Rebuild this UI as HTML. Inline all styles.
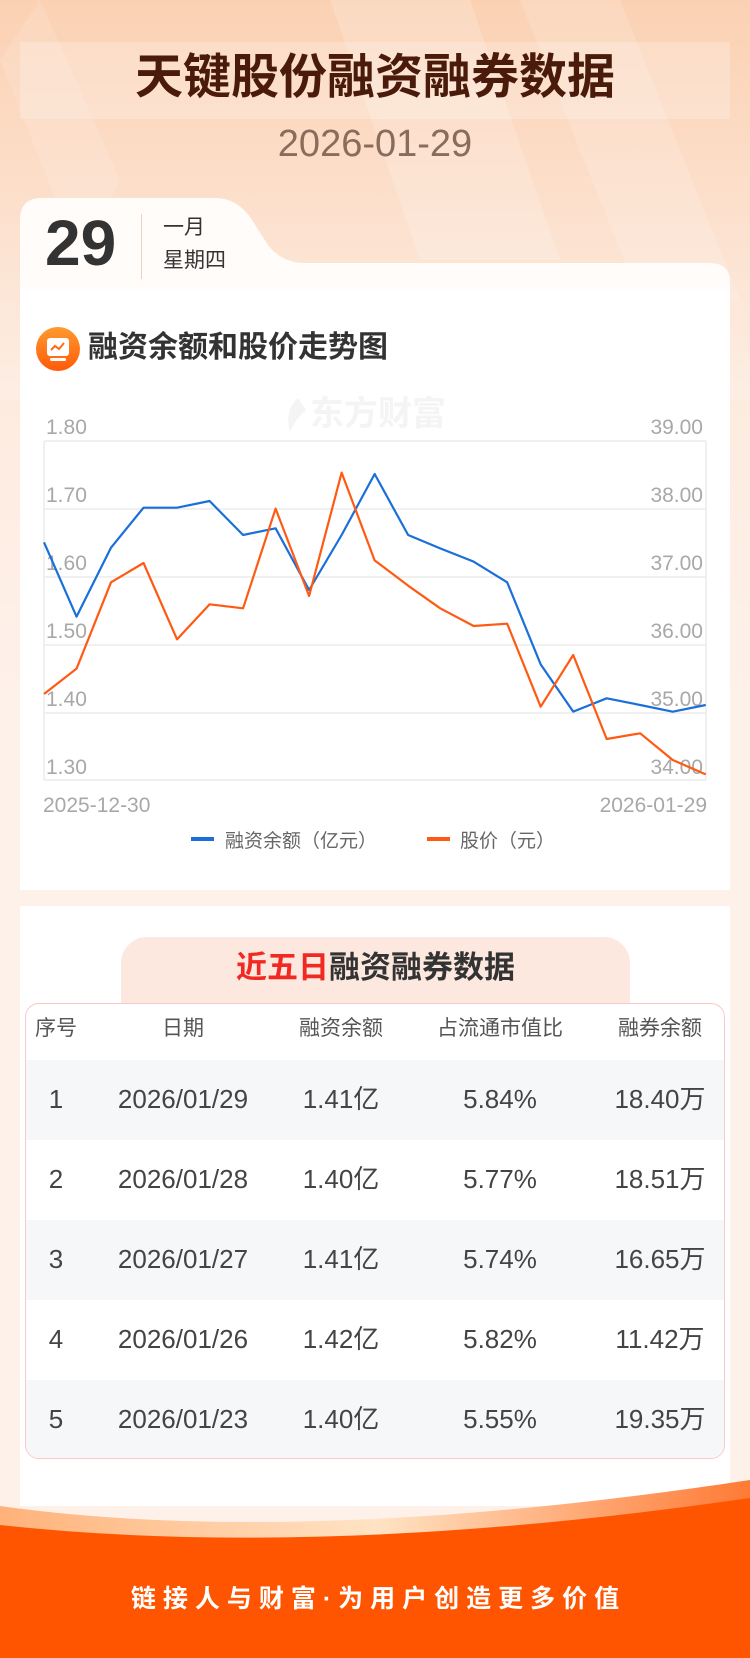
<!DOCTYPE html>
<html><head><meta charset="utf-8">
<style>
*{margin:0;padding:0;box-sizing:border-box}
body{width:750px;height:1658px;position:relative;overflow:hidden;font-family:"Liberation Sans","Noto Sans CJK SC",sans-serif;background:linear-gradient(180deg,#fcd9bf 0px,#fde9dc 300px,#fef1ea 700px,#fef1ea 1658px)}
.abs{position:absolute}
.c{text-align:center;white-space:nowrap}
</style></head><body>
<svg class="abs" style="left:0;top:0" width="750" height="400">
<defs><linearGradient id="bg" x1="0" y1="0" x2="0" y2="1"><stop offset="0" stop-color="#fbd1b3"/><stop offset="1" stop-color="#fdeee4"/></linearGradient></defs>
<rect width="750" height="400" fill="url(#bg)"/>
<polygon points="330,0 470,0 560,260 420,260" fill="#fff" opacity="0.18"/>
<polygon points="520,0 620,0 740,300 640,300" fill="#fff" opacity="0.15"/>
<polygon points="0,60 40,0 120,180 80,260" fill="#fff" opacity="0.12"/>
<rect x="20" y="42" width="710" height="77" fill="#fff" opacity="0.22"/>
</svg>
<div class="abs c" style="left:0;width:750px;top:49px;font-size:48px;font-weight:bold;color:#4a1b0a;line-height:58px">天键股份融资融券数据</div>
<div class="abs c" style="left:0;width:750px;top:123px;font-size:38px;color:#8b6b5b;line-height:42px">2026-01-29</div>

<svg class="abs" style="left:0;top:190px" width="750" height="720">
<defs><linearGradient id="tab" x1="0" y1="0" x2="0" y2="1"><stop offset="0" stop-color="#fff" stop-opacity="0.9"/><stop offset="1" stop-color="#fff8f4"/></linearGradient></defs>
<path d="M20,30 Q20,8 42,8 L215,8 Q238,8 252,30 L268,55 Q282,73 305,73 L710,73 Q730,73 730,93 L730,700 L20,700 Z" fill="url(#tab)"/>
<rect x="20" y="99" width="710" height="601" fill="#fff"/>
</svg>
<div class="abs" style="left:45px;top:208px;font-size:64px;font-weight:bold;color:#333;line-height:70px">29</div>
<div class="abs" style="left:141px;top:214px;width:1px;height:65px;background:#f0cfc2"></div>
<div class="abs" style="left:163px;top:216px;font-size:21px;color:#333;line-height:24px">一月</div>
<div class="abs" style="left:163px;top:249px;font-size:21px;color:#333;line-height:24px">星期四</div>

<svg class="abs" style="left:36px;top:327px" width="44" height="44">
<defs><linearGradient id="ic" x1="0" y1="0" x2="0" y2="1"><stop offset="0" stop-color="#ff9a2e"/><stop offset="1" stop-color="#ff5a0a"/></linearGradient></defs>
<circle cx="22" cy="22" r="22" fill="url(#ic)"/>
<rect x="11" y="11" width="22" height="18" rx="3" fill="#fff"/>
<rect x="14" y="31" width="16" height="3" rx="1.5" fill="#fff"/>
<polyline points="15,23 19,19 23,22 28,16" fill="none" stroke="#ff6a10" stroke-width="2"/>
</svg>
<div class="abs" style="left:88px;top:331px;font-size:30px;font-weight:bold;color:#333;line-height:34px">融资余额和股价走势图</div>

<svg class="abs" style="left:0;top:380px" width="750" height="480">
<text x="310" y="45" font-size="34" font-weight="bold" fill="#f4f4f4" font-family="Liberation Sans,Noto Sans CJK SC,sans-serif">东方财富</text>
<path d="M298,18 Q284,30 290,52 Q296,38 306,30 Z" fill="#f4f4f4"/>
<g stroke="#ececec" stroke-width="1.5">
<line x1="44" y1="61" x2="706" y2="61"/><line x1="44" y1="129" x2="706" y2="129"/><line x1="44" y1="197" x2="706" y2="197"/>
<line x1="44" y1="265" x2="706" y2="265"/><line x1="44" y1="333" x2="706" y2="333"/><line x1="44" y1="400" x2="706" y2="400"/>
<line x1="44" y1="61" x2="44" y2="400"/><line x1="706" y1="61" x2="706" y2="400"/>
</g>
<g font-size="21" fill="#a8a8a8" font-family="Liberation Sans,sans-serif">
<text x="46" y="54">1.80</text><text x="46" y="122">1.70</text><text x="46" y="190">1.60</text><text x="46" y="258">1.50</text><text x="46" y="326">1.40</text><text x="46" y="394">1.30</text>
<g text-anchor="end"><text x="703" y="54">39.00</text><text x="703" y="122">38.00</text><text x="703" y="190">37.00</text><text x="703" y="258">36.00</text><text x="703" y="326">35.00</text><text x="703" y="394">34.00</text></g>
<text x="43" y="432">2025-12-30</text><text x="707" y="432" text-anchor="end">2026-01-29</text>
</g>
<g transform="scale(0.47847,0.33333)" fill="none" stroke-width="2.2" stroke-linejoin="round">
<polyline vector-effect="non-scaling-stroke" stroke="#1a6fd8" points="92,487 160,710 232,503 300,383 370,383 438,363 508,465 576,445 646,630 714,465 783,282 853,465 920,505 990,545 1060,607 1130,853 1198,995 1268,955 1338,975 1406,995 1475,975"/>
<polyline vector-effect="non-scaling-stroke" stroke="#ff5a12" points="92,942 160,866 232,607 300,549 370,778 438,673 508,685 576,386 646,648 714,278 783,541 853,617 920,685 990,738 1060,731 1130,980 1198,825 1268,1077 1338,1060 1406,1140 1475,1183"/>
</g>
<rect x="191" y="457" width="23" height="4" fill="#1a6fd8"/>
<text x="225" y="467" font-size="19" fill="#666" font-family="Liberation Sans,Noto Sans CJK SC,sans-serif">融资余额（亿元）</text>
<rect x="427" y="457" width="23" height="4" fill="#ff5a12"/>
<text x="460" y="467" font-size="19" fill="#666" font-family="Liberation Sans,Noto Sans CJK SC,sans-serif">股价（元）</text>
</svg>

<div class="abs" style="left:20px;top:906px;width:710px;height:600px;background:#fff"></div>
<div class="abs" style="left:121px;top:937px;width:509px;height:80px;background:#fde8df;border-radius:26px 26px 0 0"></div>
<div class="abs c" style="left:121px;width:509px;top:950px;font-size:31px;font-weight:bold;color:#333;line-height:36px"><span style="color:#f02a22">近五日</span>融资融券数据</div>
<div class="abs" style="left:25px;top:1003px;width:700px;height:456px;border:1px solid #fbc8c8;border-radius:14px;background:#fff;overflow:hidden">
<div style="position:absolute;left:0;top:56px;width:700px;height:80px;background:#f6f7f9"></div>
<div style="position:absolute;left:0;top:216px;width:700px;height:80px;background:#f6f7f9"></div>
<div style="position:absolute;left:0;top:376px;width:700px;height:80px;background:#f6f7f9"></div>
</div>
<div class="abs" style="left:0;top:0;width:750px;font-size:21px;color:#555">
<div class="abs c" style="left:16px;width:80px;top:1014px;line-height:30px">序号</div>
<div class="abs c" style="left:103px;width:160px;top:1014px;line-height:30px">日期</div>
<div class="abs c" style="left:261px;width:160px;top:1014px;line-height:30px">融资余额</div>
<div class="abs c" style="left:420px;width:160px;top:1014px;line-height:30px">占流通市值比</div>
<div class="abs c" style="left:580px;width:160px;top:1014px;line-height:30px">融券余额</div>
</div>
<div class="abs" style="left:0;top:0;font-size:26px;color:#444">
<div class="abs c" style="left:16px;width:80px;top:1083px;line-height:32px">1</div><div class="abs c" style="left:103px;width:160px;top:1083px;line-height:32px">2026/01/29</div><div class="abs c" style="left:261px;width:160px;top:1083px;line-height:32px">1.41亿</div><div class="abs c" style="left:420px;width:160px;top:1083px;line-height:32px">5.84%</div><div class="abs c" style="left:580px;width:160px;top:1083px;line-height:32px">18.40万</div>
<div class="abs c" style="left:16px;width:80px;top:1163px;line-height:32px">2</div><div class="abs c" style="left:103px;width:160px;top:1163px;line-height:32px">2026/01/28</div><div class="abs c" style="left:261px;width:160px;top:1163px;line-height:32px">1.40亿</div><div class="abs c" style="left:420px;width:160px;top:1163px;line-height:32px">5.77%</div><div class="abs c" style="left:580px;width:160px;top:1163px;line-height:32px">18.51万</div>
<div class="abs c" style="left:16px;width:80px;top:1243px;line-height:32px">3</div><div class="abs c" style="left:103px;width:160px;top:1243px;line-height:32px">2026/01/27</div><div class="abs c" style="left:261px;width:160px;top:1243px;line-height:32px">1.41亿</div><div class="abs c" style="left:420px;width:160px;top:1243px;line-height:32px">5.74%</div><div class="abs c" style="left:580px;width:160px;top:1243px;line-height:32px">16.65万</div>
<div class="abs c" style="left:16px;width:80px;top:1323px;line-height:32px">4</div><div class="abs c" style="left:103px;width:160px;top:1323px;line-height:32px">2026/01/26</div><div class="abs c" style="left:261px;width:160px;top:1323px;line-height:32px">1.42亿</div><div class="abs c" style="left:420px;width:160px;top:1323px;line-height:32px">5.82%</div><div class="abs c" style="left:580px;width:160px;top:1323px;line-height:32px">11.42万</div>
<div class="abs c" style="left:16px;width:80px;top:1403px;line-height:32px">5</div><div class="abs c" style="left:103px;width:160px;top:1403px;line-height:32px">2026/01/23</div><div class="abs c" style="left:261px;width:160px;top:1403px;line-height:32px">1.40亿</div><div class="abs c" style="left:420px;width:160px;top:1403px;line-height:32px">5.55%</div><div class="abs c" style="left:580px;width:160px;top:1403px;line-height:32px">19.35万</div>
</div>

<svg class="abs" style="left:0;top:1470px" width="750" height="188">
<defs><linearGradient id="band" x1="0" y1="0" x2="1" y2="0"><stop offset="0" stop-color="#ffb27a"/><stop offset="0.5" stop-color="#ffe3c4"/><stop offset="1" stop-color="#ff7a35"/></linearGradient></defs>
<path d="M0,36 Q300,78 750,10 L750,188 L0,188 Z" fill="url(#band)"/>
<path d="M0,55 Q320,90 750,28 L750,188 L0,188 Z" fill="#ff5500"/>
</svg>
<div class="abs c" style="left:0;width:750px;top:1584px;font-size:25px;font-weight:bold;color:#fff;letter-spacing:7px;line-height:30px;padding-left:7px">链接人与财富·为用户创造更多价值</div>
</body></html>
